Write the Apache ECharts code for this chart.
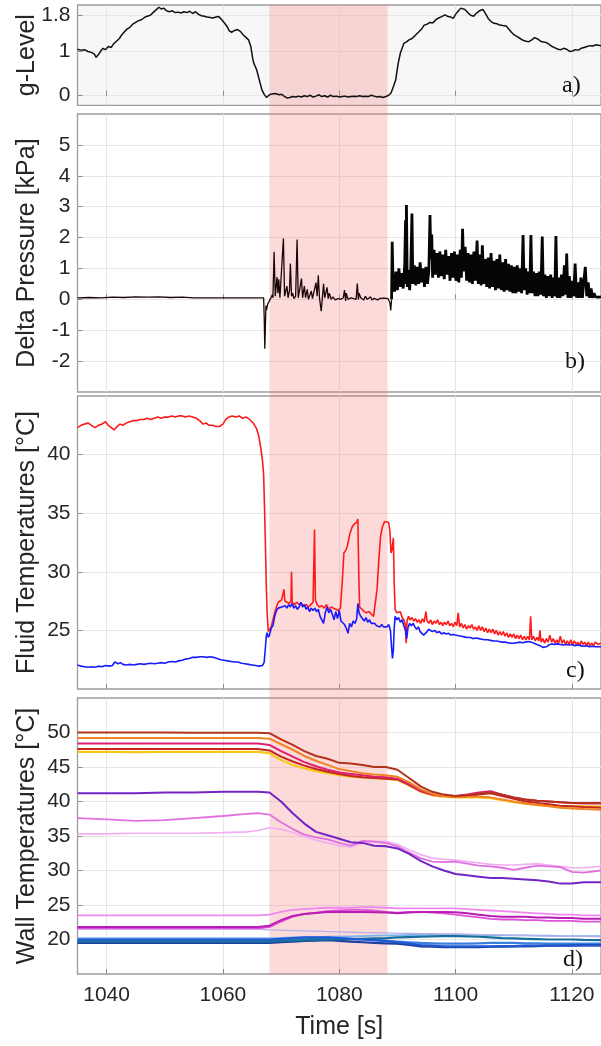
<!DOCTYPE html>
<html>
<head>
<meta charset="utf-8">
<script src="https://cdn.jsdelivr.net/npm/echarts@6/dist/echarts.min.js"></script>
<style>html,body{margin:0;padding:0;background:#fff;}#c{width:601px;height:1046px;}</style>
</head>
<body>
<div id="c"></div>
<script>
// ---------- data ----------
const xTicks = [1040, 1060, 1080, 1100, 1120];
const shadeRange = [1068, 1088.3];
const gTicks = [0, 1, 1.8];
const dpTicks = [-2, -1, 0, 1, 2, 3, 4, 5];
const ftTicks = [25, 30, 35, 40];
const wtTicks = [20, 25, 30, 35, 40, 45, 50];
const panelLabels = ['a)', 'b)', 'c)', 'd)'];
const axisNames = ['g-Level', 'Delta Pressure [kPa]', 'Fluid Temperatures [°C]', 'Wall Temperatures [°C]'];

const gLevel = [[1035,1.04],[1035.6,1.02],[1036.2,1.03],[1036.8,0.99],[1037.4,0.97],[1037.9,0.93],[1038.2,0.86],[1038.6,0.92],[1039,1.0],[1039.4,1.06],[1039.8,1.03],[1040.3,1.1],[1040.8,1.08],[1041.2,1.16],[1041.7,1.22],[1042.2,1.28],[1042.6,1.36],[1043,1.42],[1043.5,1.49],[1044,1.53],[1044.5,1.6],[1045,1.64],[1045.5,1.68],[1046,1.7],[1046.5,1.75],[1047,1.78],[1047.5,1.8],[1048,1.86],[1048.5,1.92],[1049,1.98],[1049.4,1.94],[1049.8,1.96],[1050.3,1.9],[1050.8,1.88],[1051.3,1.9],[1051.8,1.86],[1052.3,1.87],[1052.8,1.85],[1053.3,1.88],[1053.8,1.86],[1054.3,1.89],[1054.8,1.84],[1055.3,1.88],[1055.8,1.82],[1056.3,1.79],[1056.8,1.78],[1057.3,1.76],[1057.8,1.75],[1058.3,1.74],[1058.8,1.76],[1059.3,1.77],[1059.8,1.7],[1060.3,1.62],[1060.7,1.55],[1061.1,1.45],[1061.5,1.42],[1062,1.46],[1062.5,1.48],[1063,1.44],[1063.5,1.36],[1064,1.3],[1064.4,1.25],[1064.8,1.1],[1065.1,0.85],[1065.3,0.73],[1065.8,0.58],[1066.3,0.33],[1066.7,0.13],[1067.1,0.03],[1067.5,-0.04],[1068,0.02],[1068.4,0.04],[1068.7,0.08],[1069,0.05],[1069.3,0.07],[1069.7,0.02],[1070.1,0.03],[1070.5,-0.01],[1071,-0.05],[1071.5,-0.04],[1072,-0.02],[1072.5,-0.03],[1073,-0.01],[1073.5,-0.03],[1074,0.0],[1074.5,-0.02],[1075,0.01],[1075.5,-0.03],[1076,-0.01],[1076.5,0.02],[1077,-0.02],[1077.5,0.0],[1078,-0.03],[1078.5,0.01],[1079,-0.02],[1079.5,-0.01],[1080,-0.03],[1080.5,-0.02],[1081,-0.01],[1081.5,-0.03],[1082,-0.02],[1082.5,-0.01],[1083,-0.02],[1083.5,0.0],[1084,-0.02],[1084.5,-0.01],[1085,-0.02],[1085.5,0.01],[1086,-0.01],[1086.5,-0.03],[1087,-0.02],[1087.5,-0.04],[1088,-0.02],[1088.5,0.01],[1088.9,0.06],[1089.3,0.2],[1089.7,0.35],[1090.1,0.7],[1090.5,0.95],[1091.1,1.17],[1091.5,1.2],[1092,1.25],[1092.5,1.28],[1093,1.34],[1093.7,1.43],[1094.2,1.5],[1094.6,1.58],[1095.1,1.6],[1095.6,1.64],[1096.1,1.63],[1096.6,1.7],[1097.1,1.74],[1097.6,1.77],[1098.2,1.81],[1098.7,1.77],[1099.2,1.76],[1099.6,1.73],[1100,1.82],[1100.5,1.9],[1100.9,1.96],[1101.2,1.99],[1101.6,1.93],[1102.1,1.86],[1102.6,1.8],[1103.1,1.78],[1103.6,1.85],[1104.1,1.9],[1104.7,1.93],[1105.1,1.85],[1105.6,1.73],[1106.1,1.66],[1106.6,1.62],[1107.1,1.61],[1107.6,1.58],[1108.1,1.57],[1108.7,1.56],[1109.1,1.5],[1109.6,1.42],[1110.1,1.36],[1110.6,1.32],[1111.1,1.28],[1111.6,1.24],[1112.1,1.22],[1112.6,1.21],[1113.1,1.25],[1113.6,1.3],[1114.1,1.27],[1114.6,1.22],[1115.1,1.2],[1115.6,1.19],[1116.1,1.15],[1116.6,1.1],[1117.1,1.07],[1117.6,1.04],[1118.1,1.03],[1118.6,1.06],[1119.1,1.04],[1119.6,0.99],[1120.1,1.0],[1120.6,1.03],[1121.1,1.02],[1121.6,1.06],[1122.1,1.08],[1122.6,1.1],[1123.1,1.12],[1123.6,1.11],[1124.1,1.14],[1125,1.12]];

// delta pressure: before and during the low-g phase
const deltaPEarly = [[1035,0.05],[1037,0.06],[1039,0.05],[1041,0.07],[1043,0.06],[1045,0.08],[1047,0.07],[1049,0.08],[1051,0.06],[1053,0.07],[1055,0.05],[1057,0.05],[1059,0.05],[1061,0.05],[1063,0.05],[1065,0.05],[1067,0.05],[1067.1,-0.6],[1067.2,-1.6],[1067.3,-0.9],[1067.4,-0.2],[1067.5,-0.35],[1067.7,-0.15],[1068,-0.05],[1068.3,0.0],[1068.5,0.15],[1068.6,0.05],[1068.8,1.54],[1069,0.1],[1069.3,0.72],[1069.45,0.2],[1069.6,0.65],[1069.8,0.05],[1070.1,0.1],[1070.4,1.97],[1070.6,0.1],[1070.8,0.15],[1071,0.43],[1071.2,0.05],[1071.45,0.3],[1071.6,1.16],[1071.8,0.1],[1072,0.2],[1072.2,0.02],[1072.5,0.1],[1072.75,1.94],[1072.95,0.05],[1073.2,0.1],[1073.5,0.67],[1073.7,0.05],[1074,0.43],[1074.2,0.05],[1074.5,0.32],[1074.7,0.0],[1075,0.05],[1075.2,0.27],[1075.4,0.02],[1075.7,0.05],[1076,0.54],[1076.2,0.1],[1076.4,0.78],[1076.6,0.05],[1076.9,-0.38],[1077.1,0.05],[1077.3,0.5],[1077.5,0.05],[1077.9,0.39],[1078.1,0.02],[1078.3,0.2],[1078.6,0.0],[1078.9,0.08],[1079.3,-0.02],[1079.8,0.02],[1080.3,0.0],[1080.7,0.05],[1080.9,0.3],[1081.1,-0.05],[1081.2,0.2],[1081.5,0.0],[1082,0.05],[1082.5,0.02],[1082.9,0.0],[1083.1,0.51],[1083.3,0.0],[1083.4,0.2],[1083.7,0.05],[1084.2,-0.02],[1084.5,0.1],[1084.8,0.0],[1085.4,0.08],[1085.6,-0.02],[1086,0.03],[1086.3,0.07],[1086.6,-0.02],[1087,0.03],[1087.3,0.0],[1087.7,0.04],[1088,-0.02],[1088.4,0.02],[1088.7,-0.1],[1088.85,-0.36],[1089,0.0]];
// delta pressure: after the low-g phase (dense oscillation band)
const deltaPLate = [[1089,0.0],[1089.1,1.86],[1089.25,0.55],[1089.5,0.25],[1089.75,0.9],[1090,0.3],[1090.25,1.0],[1090.5,0.4],[1090.75,0.85],[1091,0.35],[1091.25,1.1],[1091.4,2.56],[1091.5,0.5],[1091.55,3.05],[1091.7,0.4],[1091.9,0.95],[1092.1,0.3],[1092.3,1.0],[1092.5,2.78],[1092.65,0.5],[1092.9,1.1],[1093.15,0.45],[1093.4,1.05],[1093.65,0.5],[1093.9,1.2],[1094.15,0.55],[1094.4,1.0],[1094.65,0.4],[1094.9,1.05],[1095.15,0.5],[1095.4,0.9],[1095.6,2.73],[1095.75,1.3],[1095.9,2.1],[1096.05,0.7],[1096.3,1.6],[1096.55,0.8],[1096.8,1.5],[1097.05,0.7],[1097.3,1.55],[1097.55,0.75],[1097.8,1.45],[1098.05,0.65],[1098.3,1.6],[1098.55,0.8],[1098.8,1.4],[1099.05,0.6],[1099.3,1.5],[1099.55,0.7],[1099.8,1.55],[1100.05,0.6],[1100.3,1.45],[1100.55,0.55],[1100.8,1.6],[1101,0.7],[1101.2,2.28],[1101.4,0.9],[1101.65,1.7],[1101.9,0.6],[1102.15,1.5],[1102.4,0.55],[1102.65,1.45],[1102.9,0.5],[1103.15,1.55],[1103.4,0.6],[1103.7,1.9],[1103.9,0.5],[1104.15,1.45],[1104.4,0.45],[1104.6,1.75],[1104.85,0.5],[1105.1,1.3],[1105.35,0.4],[1105.6,1.35],[1105.85,0.35],[1106.1,1.5],[1106.35,0.4],[1106.6,1.25],[1106.85,0.3],[1107.1,1.3],[1107.35,0.35],[1107.6,1.45],[1107.85,0.3],[1108.1,1.2],[1108.35,0.25],[1108.6,1.3],[1108.85,0.3],[1109.1,1.15],[1109.35,0.25],[1109.6,1.1],[1109.85,0.2],[1110.1,1.05],[1110.35,0.2],[1110.6,1.1],[1110.85,0.25],[1111.1,1.0],[1111.35,0.2],[1111.6,2.08],[1111.8,0.3],[1112.05,1.0],[1112.3,0.15],[1112.5,0.9],[1112.75,0.2],[1112.95,2.08],[1113.15,0.2],[1113.4,0.9],[1113.65,0.1],[1113.9,0.85],[1114.15,0.1],[1114.4,0.9],[1114.65,0.15],[1114.9,2.03],[1115.1,0.1],[1115.35,0.8],[1115.6,0.05],[1115.85,0.75],[1116.1,0.1],[1116.35,0.8],[1116.6,0.05],[1116.85,0.7],[1117.05,0.1],[1117.25,2.05],[1117.45,0.05],[1117.7,0.7],[1117.95,0.05],[1118.2,0.8],[1118.45,0.1],[1118.7,1.1],[1118.95,0.15],[1119.1,1.48],[1119.3,0.05],[1119.55,0.75],[1119.8,0.05],[1120.05,0.6],[1120.3,0.1],[1120.55,1.16],[1120.8,0.05],[1121.05,0.55],[1121.3,0.05],[1121.55,0.7],[1121.8,0.05],[1122.05,0.6],[1122.3,1.05],[1122.55,0.1],[1122.8,0.55],[1123.05,0.05],[1123.3,0.35],[1123.55,0.05],[1123.8,0.2],[1124.05,0.08],[1124.3,0.12],[1124.6,0.07],[1125,0.08]];

const fluidRed = [[1035,42.3],[1035.6,42.5],[1036.2,42.6],[1036.8,42.7],[1037.4,42.5],[1038,42.3],[1038.6,42.5],[1039.2,42.6],[1039.8,42.8],[1040.3,42.5],[1040.8,42.3],[1041.3,42.1],[1041.8,42.4],[1042.3,42.6],[1042.8,42.5],[1043.4,42.7],[1044,42.8],[1044.6,42.9],[1045.2,42.9],[1045.8,43.0],[1046.4,43.0],[1047,43.1],[1047.6,43.0],[1048.2,43.1],[1048.8,43.2],[1049.4,43.1],[1050,43.2],[1050.6,43.2],[1051.2,43.3],[1051.8,43.2],[1052.4,43.3],[1053,43.3],[1053.6,43.2],[1054.2,43.3],[1054.8,43.2],[1055.4,43.1],[1056,42.9],[1056.6,42.6],[1057.1,42.7],[1057.6,42.5],[1058.2,42.5],[1058.8,42.4],[1059.4,42.4],[1060,42.6],[1060.5,43.0],[1061,43.2],[1061.6,43.3],[1062.2,43.2],[1062.8,43.3],[1063.4,43.1],[1064,43.2],[1064.6,43.0],[1065.2,42.7],[1065.8,42.2],[1066.2,41.5],[1066.5,40.6],[1066.8,39.5],[1067,38.3],[1067.15,35.5],[1067.3,32.5],[1067.45,29.0],[1067.6,26.5],[1067.8,24.9],[1068,24.8],[1068.3,25.3],[1068.6,25.9],[1068.9,26.5],[1069.2,27.0],[1069.5,27.4],[1069.8,27.3],[1070.1,27.6],[1070.4,27.5],[1070.5,28.5],[1070.65,27.5],[1071,27.4],[1071.4,27.3],[1071.7,27.5],[1071.8,30.0],[1071.9,27.4],[1072.3,27.2],[1072.7,27.4],[1073.1,27.2],[1073.5,27.3],[1073.9,27.1],[1074.3,27.2],[1074.7,27.0],[1075.1,27.2],[1075.5,27.4],[1075.75,33.6],[1075.9,27.6],[1076.2,27.2],[1076.6,27.0],[1077,27.1],[1077.4,26.9],[1077.8,27.2],[1078.2,26.8],[1078.6,27.0],[1079,26.9],[1079.4,26.8],[1079.8,26.7],[1080.2,26.9],[1080.5,29.0],[1080.8,31.6],[1081.1,31.8],[1081.4,32.2],[1081.8,33.2],[1082.2,33.8],[1082.6,34.1],[1083,34.2],[1083.2,34.5],[1083.35,30.0],[1083.5,27.0],[1083.9,26.8],[1084.3,26.6],[1084.7,26.5],[1085.1,26.6],[1085.5,26.4],[1085.9,26.2],[1086.2,26.1],[1086.5,28.5],[1086.8,31.0],[1087.1,33.0],[1087.4,33.8],[1087.8,34.3],[1088.1,34.2],[1088.5,34.2],[1088.7,33.5],[1088.9,31.6],[1089.1,32.0],[1089.3,32.9],[1089.45,29.0],[1089.6,26.8],[1089.9,26.5],[1090.2,26.4],[1090.5,26.6],[1090.8,26.1],[1091.1,25.9],[1091.35,25.5],[1091.5,23.9],[1091.65,25.8],[1091.9,26.2],[1092.2,25.9],[1092.5,26.1],[1092.8,25.8],[1093.1,26.0],[1093.4,25.7],[1093.7,25.9],[1094,25.6],[1094.3,26.0],[1094.6,25.7],[1094.9,26.6],[1095.1,25.8],[1095.4,25.6],[1095.7,25.9],[1096,25.5],[1096.3,25.8],[1096.6,25.6],[1096.9,25.9],[1097.2,25.5],[1097.5,25.7],[1097.8,25.4],[1098.1,25.7],[1098.4,25.5],[1098.7,25.8],[1099,25.4],[1099.3,25.6],[1099.6,25.3],[1099.9,25.7],[1100.2,25.4],[1100.45,26.5],[1100.7,25.3],[1101,25.6],[1101.3,25.2],[1101.6,25.5],[1101.9,25.1],[1102.2,25.4],[1102.5,25.2],[1102.8,25.5],[1103.1,25.1],[1103.4,25.3],[1103.7,25.0],[1104,25.4],[1104.3,25.0],[1104.6,25.3],[1104.9,24.9],[1105.2,25.2],[1105.5,24.8],[1105.8,25.1],[1106.1,24.8],[1106.4,25.1],[1106.7,24.7],[1107,25.0],[1107.3,24.6],[1107.6,24.9],[1107.9,24.6],[1108.2,24.9],[1108.5,24.5],[1108.8,24.8],[1109.1,24.4],[1109.4,24.7],[1109.7,24.4],[1110,24.7],[1110.3,24.3],[1110.6,24.6],[1110.9,24.3],[1111.2,24.6],[1111.5,24.2],[1111.8,24.5],[1112.1,24.2],[1112.4,24.5],[1112.7,24.2],[1112.9,26.2],[1113.1,24.2],[1113.4,24.5],[1113.7,24.1],[1114,24.4],[1114.3,24.1],[1114.5,25.0],[1114.7,24.0],[1115,24.3],[1115.3,23.9],[1115.6,24.3],[1115.9,24.0],[1116.2,24.6],[1116.5,24.0],[1116.8,24.3],[1117.1,23.9],[1117.4,24.2],[1117.7,23.9],[1118,24.5],[1118.3,23.9],[1118.6,24.2],[1118.9,23.8],[1119.2,24.1],[1119.5,23.8],[1119.8,24.2],[1120.1,23.8],[1120.4,24.1],[1120.7,23.8],[1121,24.0],[1121.3,23.7],[1121.6,24.1],[1121.9,23.8],[1122.2,24.0],[1122.5,23.7],[1122.8,24.0],[1123.1,23.7],[1123.4,23.9],[1123.7,23.7],[1124,24.0],[1124.5,23.8],[1125,23.9]];

const fluidBlue = [[1035,22.05],[1035.6,21.95],[1036.2,21.9],[1036.8,21.85],[1037.4,21.9],[1038,21.85],[1038.6,21.95],[1039.2,21.9],[1039.8,22.0],[1040.4,21.95],[1041,22.0],[1041.4,22.3],[1041.7,22.35],[1042,22.15],[1042.4,22.25],[1042.8,22.1],[1043.4,22.05],[1044,22.1],[1044.6,22.05],[1045.2,22.1],[1045.8,22.15],[1046.4,22.1],[1047,22.15],[1047.6,22.2],[1048.2,22.15],[1048.8,22.2],[1049.4,22.25],[1050,22.2],[1050.6,22.3],[1051.2,22.35],[1051.8,22.3],[1052.4,22.4],[1053,22.45],[1053.6,22.55],[1054.2,22.6],[1054.8,22.7],[1055.4,22.7],[1056,22.75],[1056.6,22.75],[1057.2,22.7],[1057.8,22.75],[1058.4,22.7],[1059,22.6],[1059.6,22.5],[1060.2,22.45],[1060.8,22.4],[1061.4,22.35],[1062,22.3],[1062.6,22.3],[1063.2,22.2],[1063.8,22.15],[1064.4,22.1],[1065,22.05],[1065.6,22.0],[1066.2,21.95],[1066.8,22.0],[1067.1,22.3],[1067.3,23.5],[1067.45,24.5],[1067.6,24.8],[1067.8,24.4],[1068,24.6],[1068.3,25.2],[1068.6,25.4],[1068.9,26.2],[1069.2,26.7],[1069.5,26.9],[1069.8,26.8],[1070.1,27.0],[1070.4,26.9],[1070.7,27.1],[1071,26.9],[1071.3,27.2],[1071.6,27.0],[1071.9,27.3],[1072.2,26.9],[1072.5,27.1],[1072.8,26.8],[1073.1,27.0],[1073.4,27.4],[1073.7,27.0],[1074,27.2],[1074.3,26.8],[1074.6,27.0],[1074.9,26.6],[1075.2,26.9],[1075.5,26.7],[1075.8,26.9],[1076.1,26.6],[1076.4,26.8],[1076.7,26.2],[1077,25.9],[1077.3,25.6],[1077.6,26.5],[1077.9,27.0],[1078.2,26.5],[1078.5,26.8],[1078.8,26.4],[1079.1,25.9],[1079.4,26.6],[1079.7,26.0],[1080,26.7],[1080.3,25.8],[1080.6,25.9],[1080.9,25.5],[1081.2,25.2],[1081.5,24.75],[1081.8,25.6],[1082.1,25.3],[1082.4,25.8],[1082.7,25.6],[1083,26.0],[1083.2,27.3],[1083.4,26.5],[1083.7,26.2],[1084,26.0],[1084.3,25.8],[1084.6,26.1],[1084.9,25.7],[1085.2,25.9],[1085.5,25.6],[1085.8,25.5],[1086.1,25.6],[1086.4,25.4],[1086.7,25.5],[1087,25.3],[1087.3,25.5],[1087.6,25.3],[1087.9,25.4],[1088.2,25.3],[1088.5,25.5],[1088.8,25.0],[1089,23.5],[1089.15,22.6],[1089.3,23.3],[1089.45,25.2],[1089.6,26.2],[1089.9,25.9],[1090.2,26.1],[1090.5,25.7],[1090.8,25.9],[1091.1,25.4],[1091.4,25.0],[1091.6,24.3],[1091.8,25.2],[1092.1,25.6],[1092.4,25.4],[1092.7,25.6],[1093,25.3],[1093.3,25.1],[1093.6,25.3],[1093.9,24.9],[1094.2,25.0],[1094.5,24.6],[1094.8,24.75],[1095.1,24.9],[1095.4,25.1],[1095.7,25.0],[1096,24.9],[1096.4,25.0],[1096.8,24.8],[1097.2,24.9],[1097.6,24.7],[1098,24.8],[1098.4,24.7],[1098.8,24.75],[1099.2,24.6],[1099.6,24.65],[1100,24.6],[1100.5,24.55],[1101,24.5],[1101.5,24.45],[1102,24.4],[1102.5,24.4],[1103,24.3],[1103.5,24.35],[1104,24.3],[1104.5,24.25],[1105,24.2],[1105.5,24.2],[1106,24.15],[1106.5,24.1],[1107,24.1],[1107.5,24.05],[1108,24.0],[1108.5,24.0],[1109,23.95],[1109.5,23.9],[1110,23.9],[1110.5,23.95],[1111,24.0],[1111.5,23.95],[1112,24.0],[1112.5,24.05],[1113,24.0],[1113.5,23.9],[1114,23.8],[1114.5,23.7],[1115,23.55],[1115.3,23.45],[1115.6,23.6],[1116,23.75],[1116.5,23.85],[1117,23.8],[1117.5,23.85],[1118,23.8],[1118.5,23.75],[1119,23.8],[1119.5,23.75],[1120,23.8],[1120.5,23.7],[1121,23.75],[1121.5,23.7],[1122,23.65],[1122.5,23.7],[1123,23.6],[1123.5,23.65],[1124,23.6],[1125,23.6]];

const wallTime = [1035,1040,1045,1050,1055,1060,1064,1066,1068,1070,1072,1074,1076,1078,1080,1082,1084,1086,1088,1090,1092,1094,1096,1098,1100,1102,1104,1106,1108,1110,1112,1114,1116,1118,1120,1122,1125];
const wallDarkRed = [50.0,50.0,50.0,50.0,49.95,49.95,49.95,49.95,49.9,49.0,48.2,47.3,46.6,46.2,45.6,45.5,45.3,45.0,45.0,44.6,43.4,42.2,41.4,41.0,40.8,40.9,41.1,41.3,41.0,40.6,40.3,40.1,40.0,39.9,39.8,39.8,39.8];
const wallOrange = [49.2,49.2,49.2,49.2,49.2,49.2,49.2,49.2,49.1,48.3,47.5,46.6,45.9,45.3,44.7,44.4,44.1,43.9,43.8,43.6,42.8,41.8,41.1,40.8,40.7,40.7,40.7,40.6,40.3,40.0,39.7,39.5,39.3,39.1,39.0,38.9,38.8];
const wallCrimson = [48.4,48.4,48.4,48.4,48.4,48.4,48.4,48.4,48.2,47.3,46.5,45.7,45.1,44.6,44.2,44.0,43.8,43.6,43.5,43.3,42.5,41.5,41.0,40.8,40.8,41.0,41.3,41.5,41.0,40.6,40.3,40.1,40.0,39.9,39.8,39.7,39.7];
const wallRed = [47.6,47.6,47.6,47.6,47.6,47.6,47.6,47.6,47.4,46.5,45.8,45.2,44.7,44.3,44.0,43.7,43.5,43.4,43.3,43.2,42.4,41.5,41.0,40.8,40.7,40.8,41.0,41.2,40.8,40.4,40.0,39.8,39.6,39.4,39.3,39.2,39.1];
const wallYellow = [47.2,47.2,47.15,47.2,47.2,47.2,47.2,47.2,47.0,46.0,45.3,44.8,44.4,44.1,43.8,43.6,43.5,43.4,43.3,43.1,42.3,41.4,40.9,40.7,40.6,40.6,40.6,40.5,40.2,39.9,39.7,39.5,39.4,39.3,39.3,39.3,39.3];
const wallPurple = [41.2,41.2,41.2,41.3,41.3,41.4,41.4,41.4,41.3,40.0,38.3,36.8,35.6,35.1,34.6,34.1,34.0,33.6,33.5,33.2,32.4,31.4,30.6,30.0,29.5,29.3,29.1,28.9,28.9,28.8,28.7,28.6,28.4,28.1,28.1,28.3,28.3];
const wallPink = [37.6,37.4,37.2,37.3,37.6,37.9,38.2,38.3,38.1,37.0,36.0,35.2,34.8,34.5,34.0,33.6,34.3,34.2,34.0,33.5,32.6,31.8,31.3,31.2,31.3,31.0,30.7,30.6,30.4,30.1,30.4,30.7,30.6,30.5,29.8,29.7,30.0];
const wallLightPink = [35.3,35.3,35.4,35.4,35.4,35.5,35.6,35.8,36.2,36.0,35.5,34.9,34.4,34.0,33.6,33.4,34.0,34.2,34.2,33.8,33.0,32.3,31.8,31.6,31.5,31.3,31.1,30.9,30.8,30.8,30.9,31.0,30.8,30.6,30.4,30.4,30.6];
const wallPinkLow = [23.5,23.5,23.5,23.5,23.5,23.5,23.5,23.5,23.6,24.0,24.3,24.4,24.5,24.6,24.6,24.6,24.7,24.7,24.6,24.5,24.5,24.5,24.5,24.5,24.5,24.4,24.3,24.2,24.1,24.0,23.9,23.8,23.7,23.6,23.6,23.5,23.5];
const wallMagenta = [21.8,21.8,21.8,21.8,21.8,21.8,21.8,21.8,22.0,22.8,23.4,23.7,23.85,24.0,24.0,24.0,24.0,23.95,23.9,23.8,23.9,24.0,24.0,24.0,23.95,23.8,23.6,23.4,23.3,23.3,23.3,23.2,23.2,23.1,23.1,23.0,23.0];
const wallPinkMag = [21.6,21.6,21.6,21.6,21.6,21.6,21.6,21.6,21.8,22.6,23.3,23.7,23.9,24.1,24.2,24.3,24.3,24.2,24.0,23.9,24.0,24.0,23.9,23.8,23.6,23.4,23.2,23.0,22.9,22.9,22.8,22.8,22.7,22.7,22.7,22.6,22.6];
const wallLavender = [21.5,21.5,21.5,21.5,21.5,21.5,21.5,21.5,21.4,21.35,21.3,21.25,21.2,21.15,21.1,21.05,21.0,21.0,20.95,20.9,20.9,20.85,20.85,20.8,20.8,20.75,20.7,20.7,20.65,20.6,20.6,20.55,20.5,20.5,20.45,20.45,20.4];
const wallBlue = [20.0,20.0,20.0,20.0,20.0,20.0,20.0,20.0,20.0,20.1,20.2,20.3,20.3,20.3,20.2,20.1,20.0,19.9,19.8,19.6,19.4,19.2,19.1,19.0,19.0,19.0,19.0,19.0,19.05,19.05,19.1,19.1,19.1,19.1,19.1,19.1,19.1];
const wallTeal = [19.7,19.7,19.7,19.7,19.7,19.7,19.7,19.7,19.7,19.8,19.85,19.9,19.95,20.0,20.0,20.05,20.1,20.15,20.2,20.3,20.35,20.4,20.45,20.5,20.5,20.45,20.4,20.3,20.2,20.15,20.1,20.05,20.0,20.0,20.0,19.95,19.9];
const wallLightBlue = [20.2,20.2,20.2,20.2,20.2,20.2,20.2,20.2,20.2,20.25,20.3,20.3,20.35,20.4,20.4,20.45,20.5,20.55,20.6,20.6,20.65,20.65,20.7,20.7,20.7,20.7,20.65,20.65,20.6,20.6,20.6,20.55,20.55,20.5,20.5,20.5,20.5];
const wallNavy = [19.5,19.5,19.5,19.5,19.5,19.5,19.5,19.5,19.5,19.6,19.7,19.8,19.85,19.9,19.8,19.7,19.6,19.5,19.45,19.4,19.2,19.0,18.95,18.9,18.9,18.9,18.9,18.95,18.95,19.0,19.0,19.05,19.1,19.1,19.15,19.2,19.2];
const wallSky = [19.9,19.9,19.9,19.9,19.9,19.9,19.9,19.9,19.9,20.0,20.1,20.15,20.2,20.25,20.2,20.1,20.0,19.9,19.8,19.7,19.6,19.5,19.45,19.4,19.4,19.4,19.45,19.5,19.5,19.5,19.45,19.45,19.4,19.4,19.4,19.4,19.4];

const wallSeries = [
  {name:'w16', vals: wallSky, color:'#3a7fe0', w:2.2},
  {name:'w15', vals: wallNavy, color:'#1a3f9e', w:2.2},
  {name:'w14', vals: wallLightBlue, color:'#78b4ec', w:1.8},
  {name:'w13', vals: wallTeal, color:'#17709a', w:2.2},
  {name:'w12', vals: wallBlue, color:'#2058d0', w:2.2},
  {name:'w11', vals: wallLavender, color:'#b8b0e6', w:1.3},
  {name:'w10', vals: wallPinkMag, color:'#e050d8', w:1.8},
  {name:'w9', vals: wallMagenta, color:'#b81cb4', w:2},
  {name:'w8', vals: wallPinkLow, color:'#ee88ee', w:1.8},
  {name:'w7', vals: wallLightPink, color:'#f2aef2', w:1.7},
  {name:'w6', vals: wallPink, color:'#e070e0', w:1.8},
  {name:'w5', vals: wallPurple, color:'#7424c4', w:2},
  {name:'w4', vals: wallYellow, color:'#f7c81a', w:2.2},
  {name:'w3', vals: wallRed, color:'#c4261c', w:2},
  {name:'w2', vals: wallCrimson, color:'#dc2070', w:2},
  {name:'w1', vals: wallOrange, color:'#f08422', w:2},
  {name:'w0', vals: wallDarkRed, color:'#b2321c', w:2}
];

// ---------- layout ----------
const grids = [
  {left:77.5, top:5, width:528, height:100.3},
  {left:77.5, top:114, width:528, height:278},
  {left:77.5, top:396, width:528, height:293},
  {left:77.5, top:698, width:528, height:276}
];
const yDefs = [
  {min:-0.215, max:2.03, ticks:gTicks},
  {min:-3, max:6, ticks:dpTicks},
  {min:20, max:45, ticks:ftTicks},
  {min:15, max:55, ticks:wtTicks}
];
const FONT = '"Liberation Sans", Arial, Helvetica, sans-serif';
const TXT = '#262626';

const chart = echarts.init(document.getElementById('c'), null, {renderer:'canvas'});

const option = {
  animation:false,
  backgroundColor:'#ffffff',
  grid: grids.map((g,i)=>({
    left:g.left, top:g.top, width:g.width, height:g.height,
    show:true, borderColor:'#9c9c9c', borderWidth:1.3,
    backgroundColor: i===0 ? '#f7f7f7' : 'rgba(0,0,0,0)',
    containLabel:false
  })),
  xAxis: grids.map((g,i)=>({
    type:'value', gridIndex:i, min:1035, max:1125,
    name: i===3 ? 'Time [s]' : '',
    nameLocation:'middle', nameGap:41, nameMoveOverlap:false,
    nameTextStyle:{fontSize:25, color:TXT, fontFamily:FONT},
    axisLine:{show:false},
    axisTick:{show:true, inside:true, length:5, lineStyle:{color:'#8a8a8a', width:1}, customValues:xTicks},
    axisLabel:{show:i===3, fontSize:21, color:TXT, fontFamily:FONT, margin:11, customValues:xTicks,
               formatter:(v)=>String(v)},
    splitLine:{show:true, lineStyle:{color:'#e6e6e6', width:1}}
  })),
  yAxis: yDefs.map((d,i)=>({
    type:'value', gridIndex:i, min:d.min, max:d.max,
    name: axisNames[i], nameLocation:'middle', nameGap:38, nameRotate:90, nameMoveOverlap:false,
    nameTextStyle:{fontSize:25, color:TXT, fontFamily:FONT},
    axisLine:{show:false},
    axisTick:{show:true, inside:true, length:5, lineStyle:{color:'#8a8a8a', width:1}, customValues:d.ticks},
    axisLabel:{show:true, fontSize:21, color:TXT, fontFamily:FONT, margin:7, customValues:d.ticks,
               formatter:(v)=>String(v)},
    splitLine:{show:true, lineStyle:{color:'#e6e6e6', width:1}}
  })),
  series: [
    {type:'line', xAxisIndex:0, yAxisIndex:0, data:gLevel, showSymbol:false, symbol:'none',
     lineStyle:{color:'#111', width:1.5}, z:3},
    {type:'line', xAxisIndex:1, yAxisIndex:1, data:deltaPEarly, showSymbol:false, symbol:'none',
     lineStyle:{color:'#1a0808', width:1.3}, z:3},
    {type:'line', xAxisIndex:1, yAxisIndex:1, data:deltaPLate, showSymbol:false, symbol:'none',
     lineStyle:{color:'#050505', width:2.8, join:'bevel'}, z:3},
    {type:'line', xAxisIndex:2, yAxisIndex:2, data:fluidRed, showSymbol:false, symbol:'none',
     lineStyle:{color:'#ff1a1a', width:1.6}, z:3},
    {type:'line', xAxisIndex:2, yAxisIndex:2, data:fluidBlue, showSymbol:false, symbol:'none',
     lineStyle:{color:'#1a1aff', width:1.6}, z:4}
  ].concat(wallSeries.map(s=>({
    type:'line', xAxisIndex:3, yAxisIndex:3, name:s.name,
    data: wallTime.map((t,k)=>[t, s.vals[k]]),
    showSymbol:false, symbol:'none', lineStyle:{color:s.color, width:s.w}, z:3
  })))
};
chart.setOption(option);

// shaded interval spanning all four panels, positioned through the axis scales
const x0 = chart.convertToPixel({xAxisIndex:0}, shadeRange[0]);
const x1 = chart.convertToPixel({xAxisIndex:0}, shadeRange[1]);
const yTop = chart.convertToPixel({yAxisIndex:0}, yDefs[0].max);
const yBot = chart.convertToPixel({yAxisIndex:3}, yDefs[3].min);
const labelPos = [[562, 87], [565, 363], [566, 672], [563, 961]];
chart.setOption({
  graphic: [
    {type:'rect', z:1, silent:true, shape:{x:x0, y:yTop, width:x1-x0, height:yBot-yTop},
     style:{fill:'rgba(248,120,120,0.27)'}}
  ].concat(panelLabels.map((t,i)=>({
    type:'text', z:10, left:labelPos[i][0], top:labelPos[i][1]-13,
    style:{text:t, font:'24px "Liberation Serif", "Times New Roman", serif', fill:'#111'}
  })))
});
</script>
</body>
</html>
